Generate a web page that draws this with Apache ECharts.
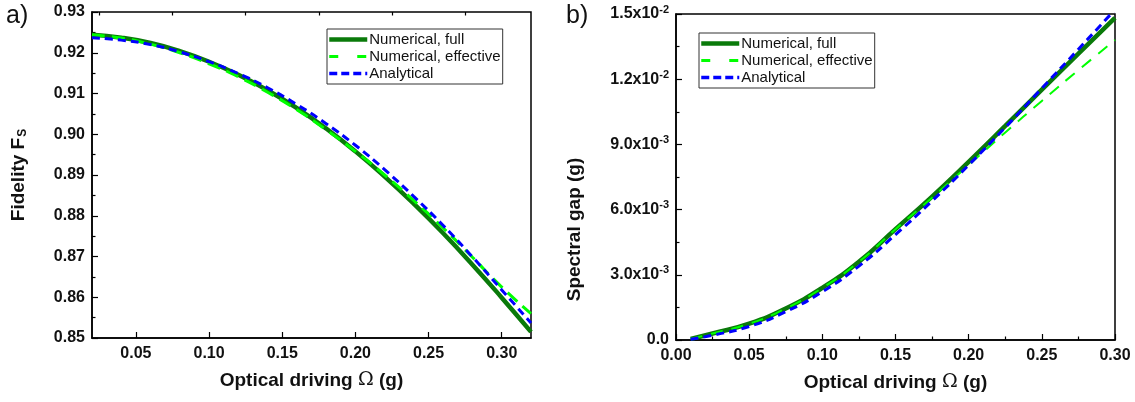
<!DOCTYPE html>
<html><head><meta charset="utf-8">
<script src="https://cdn.jsdelivr.net/npm/echarts@6/dist/echarts.min.js"></script>
<style>html,body{margin:0;padding:0;background:#fff}#c{width:1135px;height:402px}</style>
</head><body><div id="c"></div>
<script>
// ---- Panel a) Fidelity vs optical driving ----
const omegaA = [0.02,0.04,0.06,0.08,0.10,0.12,0.14,0.16,0.18,0.20,0.22,0.24,0.26,0.28,0.30,0.32];
const fidFull = [0.9244,0.9237,0.9224,0.9204,0.9178,0.9146,0.9108,0.9064,0.9014,0.8958,0.8896,0.8829,0.8757,0.8680,0.8599,0.8515];
const fidEff  = [0.9244,0.9236,0.9221,0.9200,0.9173,0.9141,0.9103,0.9060,0.9011,0.8958,0.8900,0.8837,0.8770,0.8698,0.8625,0.8560];
const fidAna  = [0.9237,0.9231,0.9220,0.9202,0.9178,0.9149,0.9114,0.9073,0.9026,0.8973,0.8913,0.8847,0.8776,0.8699,0.8618,0.8537];
const xTicksA = [0.05,0.10,0.15,0.20,0.25,0.30];
const xMinorA = [0.025,0.075,0.125,0.175,0.225,0.275];

// ---- Panel b) Spectral gap vs optical driving ----
const omegaB = [0.01,0.025,0.05,0.075,0.10,0.125,0.15,0.175,0.20,0.225,0.25,0.275,0.30];
const gapFull = [0.00005,0.00030,0.00075,0.00145,0.00240,0.00360,0.00510,0.00660,0.00820,0.00985,0.01152,0.01318,0.01482];
const gapEff  = [0.00005,0.00030,0.00075,0.00145,0.00240,0.00360,0.00510,0.00655,0.00805,0.00955,0.01100,0.01242,0.01380];
const gapAna  = [0.00003,0.00022,0.00062,0.00130,0.00222,0.00340,0.00485,0.00640,0.00805,0.00978,0.01158,0.01338,0.01520];
const yTicksB = [0,0.003,0.006,0.009,0.012,0.015];
const yLabelsB = [['0.0',''],['3.0x10','-3'],['6.0x10','-3'],['9.0x10','-3'],['1.2x10','-2'],['1.5x10','-2']];

const seriesNames = ['Numerical, full','Numerical, effective','Analytical'];
const pairs = (xs, ys) => xs.map((x,i)=>[x, ys[i]]);

const FONT = 'Liberation Sans, Arial, sans-serif';
const DARK = '#0a7a0a', LIGHT = '#00ff00', BLUE = '#0000ff';

const stylesA = [
  {color: DARK, width: 4.5, type: 'solid'},
  {color: LIGHT, width: 3, type: [13,7]},
  {color: BLUE, width: 3, type: [8,5]}
];
const stylesB = [
  {color: DARK, width: 4.5, type: 'solid'},
  {color: LIGHT, width: 2, type: [12,9]},
  {color: BLUE, width: 3, type: [8,5]}
];
const legendStyles = [
  {color: DARK, width: 4.5, type: 'solid'},
  {color: LIGHT, width: 3, type: [9,19]},
  {color: BLUE, width: 3.5, type: [8,4]}
];

function mkSeries(xi, yi, datas, suffix, styles){
  return datas.map((d,k)=>({
    name: seriesNames[k] + suffix,
    type: 'line', xAxisIndex: xi, yAxisIndex: yi,
    data: d, symbol: 'none', showSymbol: false, smooth: 0.5,
    lineStyle: {color: styles[k].color, width: styles[k].width, type: styles[k].type},
    itemStyle: {color: styles[k].color},
    z: k===0 ? 2 : 3 + k
  }));
}

const tickLabel = {fontFamily: FONT, fontWeight: 'bold', fontSize: 16, color: '#111'};
const axisLine = {show: true, lineStyle: {color: '#000', width: 1.5}};
const xName = {
  name: '{b|Optical driving }{o|Ω}{b| (g)}',
  nameLocation: 'middle', nameGap: 33,
  nameTextStyle: {rich: {
    b: {fontFamily: FONT, fontWeight: 'bold', fontSize: 19, color: '#111'},
    o: {fontFamily: 'DejaVu Serif, serif', fontSize: 19, color: '#111'}
  }}
};

function legendCfg(left, top, suffix){
  return {
    show: true, orient: 'vertical', left: left, top: top,
    itemWidth: 38, itemHeight: 2, itemGap: 2,
    padding: [3, 2, 3, 0],
    borderColor: '#333', borderWidth: 1, borderRadius: 0,
    itemStyle: {color: 'transparent', borderWidth: 0, opacity: 0},
    textStyle: {fontFamily: FONT, fontSize: 15, color: '#111', padding: [0,0,0,-3]},
    data: seriesNames.map((n,k) => ({name: n + suffix, lineStyle: legendStyles[k]})),
    formatter: n => n.replace(/\u200b/g,'')
  };
}

const option = {
  animation: false,
  backgroundColor: '#fff',
  grid: [
    {left: 92, top: 12, width: 439, height: 326, show: true, borderColor: '#000', borderWidth: 1.5, backgroundColor: 'transparent'},
    {left: 676, top: 14, width: 439, height: 326, show: true, borderColor: '#000', borderWidth: 1.5, backgroundColor: 'transparent'}
  ],
  legend: [legendCfg(327, 29, ''), legendCfg(699, 33, '\u200b')],
  xAxis: [
    Object.assign({
      gridIndex: 0, type: 'value', min: 0.02, max: 0.32,
      axisLine: axisLine,
      axisTick: {show: true, inside: true, length: 6, lineStyle: {color:'#000', width: 1.2}, customValues: xTicksA},
      axisLabel: {show: true, customValues: xTicksA, margin: 8, formatter: v => v.toFixed(2), ...tickLabel},
      splitLine: {show: false}
    }, xName),
    {
      gridIndex: 0, type: 'value', min: 0.02, max: 0.32,
      axisLine: {show: false},
      axisTick: {show: true, inside: true, length: 3.5, lineStyle: {color:'#000', width: 1.2}, customValues: xMinorA},
      axisLabel: {show: false, customValues: xMinorA},
      splitLine: {show: false}
    },
    Object.assign({
      gridIndex: 1, type: 'value', min: 0, max: 0.30, interval: 0.05,
      axisLine: axisLine,
      axisTick: {show: true, inside: true, length: 6, lineStyle: {color:'#000', width: 1.2}},
      minorTick: {show: true, splitNumber: 2, length: 3.5, lineStyle: {color:'#000', width: 1.2}},
      axisLabel: {show: true, margin: 8, formatter: v => v.toFixed(2), ...tickLabel},
      splitLine: {show: false}
    }, xName)
  ],
  yAxis: [
    {
      gridIndex: 0, type: 'value', min: 0.85, max: 0.93, interval: 0.01,
      axisLine: axisLine,
      axisTick: {show: true, inside: true, length: 6, lineStyle: {color:'#000', width: 1.2}},
      minorTick: {show: true, splitNumber: 2, length: 3.5, lineStyle: {color:'#000', width: 1.2}},
      axisLabel: {show: true, margin: 7, formatter: v => v.toFixed(2), ...tickLabel},
      splitLine: {show: false},
      name: '{b|Fidelity F}{s|S}', nameLocation: 'middle', nameGap: 62,
      nameTextStyle: {rich: {
        b: {fontFamily: FONT, fontWeight: 'bold', fontSize: 19, color: '#111', lineHeight: 22},
        s: {fontFamily: FONT, fontWeight: 'bold', fontSize: 12, color: '#111', lineHeight: 22, padding: [8,0,0,1]}
      }}
    },
    {
      gridIndex: 1, type: 'value', min: 0, max: 0.015, interval: 0.003,
      axisLine: axisLine,
      axisTick: {show: true, inside: true, length: 6, lineStyle: {color:'#000', width: 1.2}},
      minorTick: {show: true, splitNumber: 2, length: 3.5, lineStyle: {color:'#000', width: 1.2}},
      axisLabel: {show: true, margin: 7,
        formatter: v => {
          const i = yTicksB.findIndex(t => Math.abs(t - v) < 1e-9);
          if (i < 0) return '';
          const p = yLabelsB[i];
          return p[1] ? '{b|' + p[0] + '}{s|' + p[1] + '}' : '{b|' + p[0] + '}';
        },
        rich: {
          b: {fontFamily: FONT, fontWeight: 'bold', fontSize: 16, color: '#111', lineHeight: 20},
          s: {fontFamily: FONT, fontWeight: 'bold', fontSize: 11, color: '#111', lineHeight: 20, padding: [0,0,9,0]}
        }
      },
      splitLine: {show: false},
      name: 'Spectral gap (g)', nameLocation: 'middle', nameGap: 92,
      nameTextStyle: {fontFamily: FONT, fontWeight: 'bold', fontSize: 19, color: '#111', padding: [0, 0, 0, -105]}
    }
  ],
  graphic: [
    {type: 'text', left: 6, top: 4, style: {text: 'a)', fontFamily: FONT, fontSize: 25, fill: '#111'}},
    {type: 'text', left: 566, top: 4, style: {text: 'b)', fontFamily: FONT, fontSize: 25, fill: '#111'}}
  ],
  series: [
    ...mkSeries(0, 0, [pairs(omegaA, fidFull), pairs(omegaA, fidEff), pairs(omegaA, fidAna)], '', stylesA),
    ...mkSeries(2, 1, [pairs(omegaB, gapFull), pairs(omegaB, gapEff), pairs(omegaB, gapAna)], '\u200b', stylesB)
  ]
};
const chart = echarts.init(document.getElementById('c'), null, {renderer: 'canvas'});
chart.setOption(option);
</script>
</body></html>
